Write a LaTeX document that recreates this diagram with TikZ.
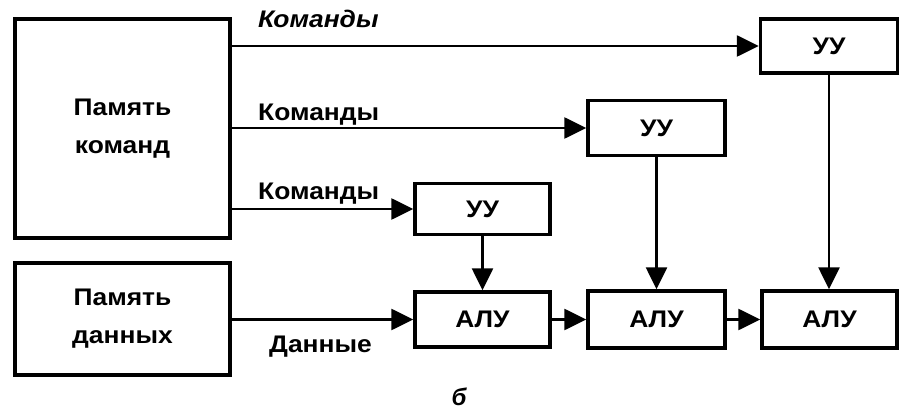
\documentclass[tikz,border=0pt]{standalone}
\usepackage{fontspec}
\setmainfont{Liberation Sans}
\usetikzlibrary{arrows.meta}
\newcommand{\widetext}[1]{\scalebox{1.1}[1]{#1}}
\tikzset{
  block/.style={draw, line width=3.4pt, inner sep=0pt, align=center,
    font=\fontsize{24}{38}\selectfont\bfseries},
  link/.style={line width=2.5pt, -{Triangle[length=22pt,width=21pt]}},
  lbl/.style={inner sep=0pt, font=\fontsize{24}{28}\selectfont\bfseries}
}
\begin{document}
\begin{tikzpicture}[x=1pt,y=-1pt]
\useasboundingbox (0,0) rectangle (902,414);
% memories
\node[block, minimum width=215pt, minimum height=219pt] (mem) at (122.5,128.5)
  {\widetext{Память}\\\widetext{команд}};
\node[block, minimum width=215pt, minimum height=112pt] (dmem) at (122.5,319)
  {\widetext{Память}\\\widetext{данных}};
% control units
\node[block, minimum width=137pt, minimum height=54pt] (cu1) at (829,46) {\widetext{УУ}};
\node[block, minimum width=137pt, minimum height=55pt] (cu2) at (656.5,128) {\widetext{УУ}};
\node[block, minimum width=135pt, minimum height=51pt] (cu3) at (482.5,209) {\widetext{УУ}};
% arithmetic units
\node[block, minimum width=135pt, minimum height=55pt] (alu1) at (482.5,319.5) {\widetext{АЛУ}};
\node[block, minimum width=137pt, minimum height=57pt] (alu2) at (656.5,319.5) {\widetext{АЛУ}};
\node[block, minimum width=135pt, minimum height=57pt] (alu3) at (829.5,319.5) {\widetext{АЛУ}};
% instruction streams
\draw[link] (mem.east |- cu1.west) -- (cu1.west);
\draw[link] (mem.east |- cu2.west) -- (cu2.west);
\draw[link] (mem.east |- cu3.west) -- (cu3.west);
% data stream
\draw[link] (dmem.east |- alu1.west) -- (alu1.west);
\draw[link] (alu1) -- (alu2);
\draw[link] (alu2) -- (alu3);
% control to arithmetic
\draw[link] (cu1.south) -- (alu3.north -| cu1.south);
\draw[link] (cu2.south) -- (alu2.north);
\draw[link] (cu3.south) -- (alu1.north);
% labels
\node[lbl, anchor=base west] (l1) at (258,28) {\widetext{\itshape Команды}};
\node[lbl, anchor=base west] (l2) at (258,121) {\widetext{Команды}};
\node[lbl, anchor=base west] (l3) at (258,200) {\widetext{Команды}};
\node[lbl, anchor=base west] (l4) at (269,352) {\widetext{Данные}};
\node[lbl, anchor=base] (cap) at (459,405) {\itshape б};
\end{tikzpicture}
\end{document}
